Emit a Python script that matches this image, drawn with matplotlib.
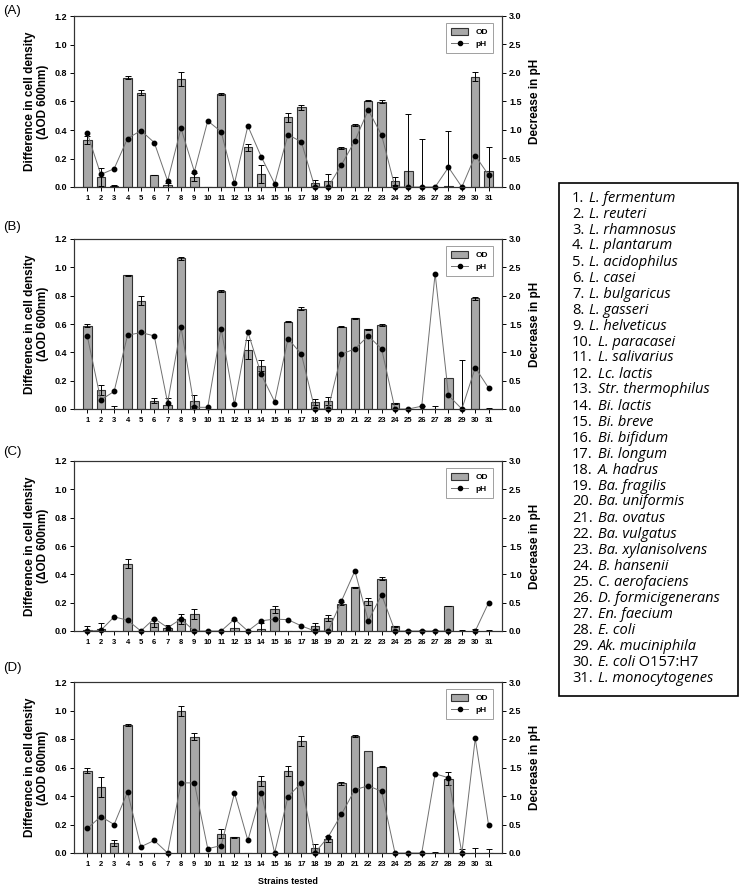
import numpy as np
import matplotlib.pyplot as plt
from matplotlib.lines import Line2D
from matplotlib.patches import Patch, Rectangle

plt.rcParams['font.family'] = ['Liberation Sans', 'DejaVu Sans']
plt.rcParams['font.weight'] = 'bold'
plt.rcParams['axes.labelweight'] = 'bold'

strains = np.arange(1, 32)

# (A)
od_a = [0.33, 0.07, 0.008, 0.767, 0.662, 0.084, 0.014, 0.76, 0.07, 0, 0.653, 0, 0.278, 0.091, 0, 0.489,
        0.559, 0.03, 0.045, 0.274, 0.435, 0.606, 0.599, 0.042, 0.112, 0, 0, 0.005, 0, 0.774, 0.11]
err_a = [0.03, 0.06, 0.003, 0.01, 0.018, 0.003, 0.012, 0.05, 0.03, 0, 0.01, 0, 0.025, 0.06, 0, 0.03,
         0.018, 0.02, 0.045, 0.01, 0.004, 0.002, 0.01, 0.028, 0.40, 0.34, 0, 0.39, 0, 0.03, 0.17]
ph_a = [0.94, 0.22, 0.32, 0.85, 0.99, 0.78, 0.105, 1.03, 0.27, 1.16, 0.97, 0.065, 1.07, 0.53, 0.06, 0.92,
        0.79, 0, 0, 0.39, 0.81, 1.35, 0.91, 0, 0, 0, 0, 0.345, 0, 0.55, 0.21]

# (B)
od_b = [0.588, 0.134, 0, 0.944, 0.765, 0.059, 0.03, 1.065, 0.059, 0, 0.833, 0, 0.42, 0.306, 0, 0.615,
        0.708, 0.049, 0.056, 0.58, 0.64, 0.562, 0.593, 0.04, 0, 0, 0, 0.221, 0, 0.78, 0]
err_b = [0.012, 0.036, 0.021, 0.003, 0.03, 0.016, 0.05, 0.01, 0.037, 0, 0.005, 0, 0.07, 0.04, 0, 0.003,
         0.01, 0.024, 0.026, 0.003, 0.003, 0.003, 0.01, 0.003, 0, 0.02, 0.02, 0, 0.346, 0.01, 0.01]
ph_b = [1.28, 0.16, 0.31, 1.30, 1.35, 1.29, 0.11, 1.45, 0.03, 0.03, 1.42, 0.08, 1.36, 0.61, 0.13, 1.24,
        0.97, 0, 0, 0.97, 1.06, 1.29, 1.06, 0, 0, 0.05, 2.39, 0.24, 0, 0.73, 0.37]

# (C)
od_c = [0.005, 0.013, 0, 0.475, 0, 0.057, 0.024, 0.083, 0.122, 0, 0, 0.02, 0, 0.014, 0.153, 0,
        0, 0.033, 0.092, 0.193, 0.308, 0.21, 0.37, 0.033, 0, 0, 0, 0.176, 0, 0, 0]
err_c = [0.03, 0.046, 0, 0.03, 0, 0.03, 0.02, 0.035, 0.035, 0, 0, 0.06, 0, 0.045, 0.025, 0,
         0, 0.02, 0.02, 0.01, 0.003, 0.025, 0.008, 0.003, 0.006, 0.01, 0.01, 0.003, 0.007, 0.015, 0.01]
ph_c = [0, 0.01, 0.25, 0.19, 0, 0.22, 0.06, 0.21, 0, 0, 0, 0.21, 0, 0.18, 0.21, 0.2,
        0.09, 0, 0, 0.53, 1.06, 0.18, 0.64, 0, 0, 0, 0, 0, np.nan, 0, 0.5]

# (D)
od_d = [0.578, 0.463, 0.07, 0.898, 0, 0.003, 0, 0.999, 0.816, 0, 0.136, 0.11, 0.003, 0.503, 0, 0.578,
        0.784, 0.035, 0.098, 0.489, 0.821, 0.713, 0.606, 0, 0, 0, 0, 0.522, 0, 0, 0]
err_d = [0.016, 0.068, 0.022, 0.01, 0, 0, 0, 0.035, 0.025, 0, 0.032, 0.005, 0, 0.035, 0, 0.035,
         0.035, 0.028, 0.022, 0.01, 0.005, 0, 0.004, 0, 0, 0, 0.005, 0.045, 0.028, 0.035, 0.03]
ph_d = [0.43, 0.64, 0.50, 1.07, 0.11, 0.22, 0, 1.23, 1.23, 0.076, 0.13, 1.05, 0.22, 1.06, 0, 0.99,
        1.23, 0, 0.28, 0.68, 1.11, 1.18, 1.08, 0, 0, 0, 1.39, 1.32, 0, 2.01, 0.485]

species = ['L. fermentum', 'L. reuteri', 'L. rhamnosus', 'L. plantarum', 'L. acidophilus', 'L. casei',
           'L. bulgaricus', 'L. gasseri', 'L. helveticus', 'L. paracasei', 'L. salivarius', 'Lc. lactis',
           'Str. thermophilus', 'Bi. lactis', 'Bi. breve', 'Bi. bifidum', 'Bi. longum', 'A. hadrus',
           'Ba. fragilis', 'Ba. uniformis', 'Ba. ovatus', 'Ba. vulgatus', 'Ba. xylanisolvens', 'B. hansenii',
           'C. aerofaciens', 'D. formicigenerans', 'En. faecium', 'E. coli', 'Ak. muciniphila', 'E. coli',
           'L. monocytogenes']
species_suffix = {30: ' O157:H7'}

W, H = 742, 889
fig = plt.figure(figsize=(W / 100, H / 100), dpi=100)

# label, data, axes top/bottom (px), panel-letter y (px)
panels = [('(A)', od_a, err_a, ph_a, 16, 187, 11),
          ('(B)', od_b, err_b, ph_b, 239, 409, 227),
          ('(C)', od_c, err_c, ph_c, 461, 631, 452),
          ('(D)', od_d, err_d, ph_d, 682, 853, 668)]

bar_col = '#a8a8a8'
edge_col = '#333333'

for label, od, err, ph, top, bot, ly in panels:
    od = np.array(od, dtype=float)
    err = np.array(err, dtype=float)
    ax = fig.add_axes([74 / W, 1 - bot / H, 428 / W, (bot - top) / H])
    ax.bar(strains, od, width=0.62, color=bar_col, edgecolor=edge_col, linewidth=0.8)
    m = err > 0
    ax.errorbar(strains[m], od[m], yerr=err[m], fmt='none', ecolor='black',
                elinewidth=0.7, capsize=2.2, capthick=0.7)
    ax.set_xlim(0, 32)
    ax.set_ylim(0, 1.2)
    ax.set_xticks(strains)
    ax.set_yticks(np.arange(0, 1.21, 0.2))
    ax.set_yticklabels([f'{v:.1f}' for v in np.arange(0, 1.21, 0.2)])
    ax.tick_params(axis='y', direction='out', length=3, width=0.7, labelsize=6.5, pad=2)
    ax.tick_params(axis='x', direction='out', length=3, width=0.7, labelsize=5.5, pad=3)
    for s in ax.spines.values():
        s.set_linewidth(0.8)
        s.set_color(edge_col)
    ax.set_ylabel('Difference in cell density\n(\u0394OD 600nm)', fontsize=8.5, labelpad=4, linespacing=1.15)

    ax2 = ax.twinx()
    ax2.plot(strains, ph, color='#707070', lw=0.7, marker='o', ms=3.2,
             mfc='black', mec='black', clip_on=False)
    ax2.set_ylim(0, 3.0)
    ax2.set_yticks(np.arange(0, 3.01, 0.5))
    ax2.set_yticklabels([f'{v:.1f}' for v in np.arange(0, 3.01, 0.5)])
    ax2.tick_params(axis='y', direction='out', length=3, width=0.7, labelsize=6.5, pad=2)
    for s in ax2.spines.values():
        s.set_linewidth(0.8)
        s.set_color(edge_col)
    ax2.set_ylabel('Decrease in pH', fontsize=8.5, labelpad=5)

    handles = [Patch(facecolor=bar_col, edgecolor=edge_col, linewidth=0.8),
               Line2D([], [], color='#707070', lw=0.7, marker='o', ms=3, mfc='black', mec='black')]
    leg = ax2.legend(handles, ['OD', 'pH'], loc='upper right', bbox_to_anchor=(0.979, 0.959),
                     borderaxespad=0, fontsize=6, fancybox=False, handlelength=2.0,
                     handleheight=0.9, handletextpad=0.9, borderpad=0.6, labelspacing=0.4)
    leg.get_frame().set_edgecolor('#888888')
    leg.get_frame().set_linewidth(0.7)

    fig.text(3 / W, 1 - ly / H, label, fontsize=9.5, fontweight='normal', va='center', ha='left')

fig.text(288 / W, 1 - 882 / H, 'Strains tested', fontsize=6.5, ha='center', va='center')

# strain key box
fig.add_artist(Rectangle((559 / W, 1 - 696 / H), 179 / W, 513 / H, transform=fig.transFigure,
                         fill=False, lw=1.2, ec='black'))
key_font = ['Open Sans', 'DejaVu Sans']
key_size = 10.5
for i, name in enumerate(species):
    n = i + 1
    y = 1 - (198 + 16 * i) / H
    t1 = fig.text(572 / W, y, f'{n}.', fontsize=key_size, fontweight='normal', family=key_font,
                  va='center', ha='left')
    t2 = plt.annotate(name, xy=(1, 0), xycoords=t1, xytext=(3.5, 0), textcoords='offset points',
                      fontsize=key_size, fontweight='normal', family=key_font, style='italic',
                      va='bottom', ha='left')
    if n in species_suffix:
        plt.annotate(species_suffix[n], xy=(1, 0), xycoords=t2, fontsize=key_size, fontweight='normal',
                     family=key_font, va='bottom', ha='left')

fig.savefig('out.png', dpi=100)
